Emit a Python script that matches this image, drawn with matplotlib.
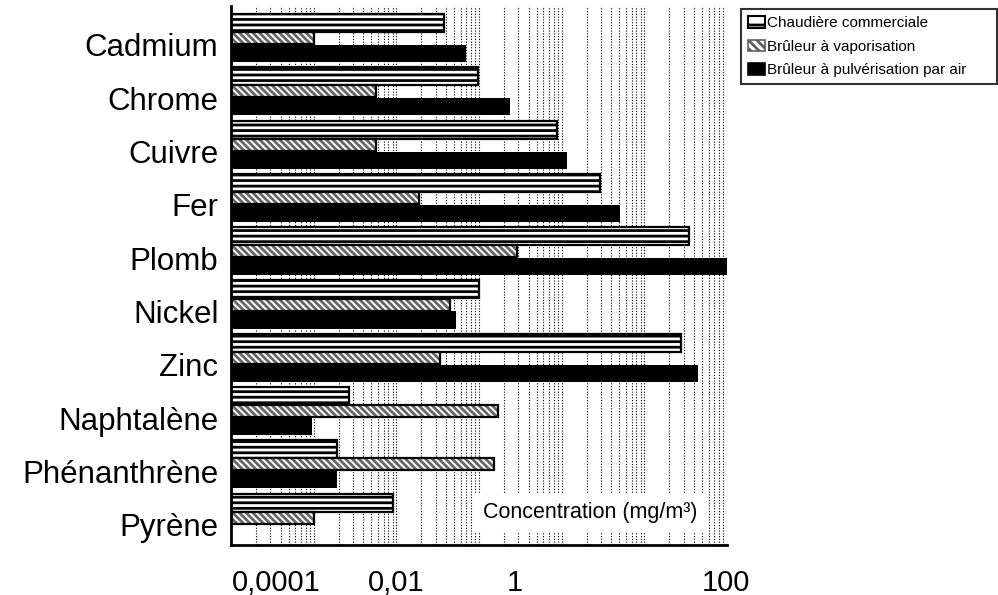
import numpy as np
import matplotlib
matplotlib.use("Agg")
import matplotlib.pyplot as plt
from matplotlib.patches import Patch
from matplotlib.ticker import LogLocator, NullFormatter

plt.rcParams['font.family'] = ['Liberation Sans', 'DejaVu Sans']
plt.rcParams['hatch.linewidth'] = 2.0

# values (mg/m3)
categories = ["Cadmium", "Chrome", "Cuivre", "Fer", "Plomb", "Nickel", "Zinc",
              "Naphtalène", "Phénanthrène", "Pyrène"]
chaudiere = [0.038, 0.096, 0.88, 2.9, 35, 0.1, 28, 0.0027, 0.0019, 0.009]
vaporisation = [0.001, 0.0056, 0.0057, 0.019, 0.29, 0.044, 0.034, 0.17, 0.15, 0.001]
pulverisation = [0.07, 0.24, 1.16, 5.1, 100, 0.053, 45, 0.00095, 0.0019, np.nan]
series_names = ["Chaudière commerciale", "Brûleur à vaporisation",
                "Brûleur à pulvérisation par air"]
tick_labels = ["0,0001", "0,01", "1", "100"]

xmin, xmax = 1e-4, 100

fig = plt.figure(figsize=(9.98, 5.95), dpi=100)
ax = fig.add_axes([231 / 998, 50 / 595, 496 / 998, 539 / 595])
ax.set_xscale("log")
ax.set_xlim(xmin, xmax)

y = np.arange(len(categories))

# gridlines behind the bars
ax.xaxis.set_major_locator(LogLocator(base=10, numticks=20))
ax.xaxis.set_minor_locator(LogLocator(base=10, subs=np.arange(2, 10), numticks=20))
ax.xaxis.set_minor_formatter(NullFormatter())
ax.grid(True, which="both", axis="x", color="black", linestyle=(0, (1, 1.5)),
        linewidth=0.8)
ax.set_axisbelow(True)

c = np.array(chaudiere)
v = np.array(vaporisation)
p = np.array(pulverisation)

ax.barh(y - 0.413, c - xmin, left=xmin, height=0.338, color="white",
        edgecolor="black", hatch="---", linewidth=1.6, zorder=2)
# hatched bar: grey stripes, then black outline on top
ax.barh(y - 0.131, v - xmin, left=xmin, height=0.225, color="white",
        edgecolor="#666666", hatch="\\\\\\\\\\", linewidth=0, zorder=2)
ax.barh(y - 0.131, v - xmin, left=xmin, height=0.225, fill=False,
        edgecolor="black", linewidth=1.6, zorder=3)
ax.barh(y + 0.16, p - xmin, left=xmin, height=0.32, color="black",
        edgecolor="black", linewidth=0, zorder=2)

ax.set_ylim(9.38, -0.73)
ax.set_yticks(y)
ax.set_yticklabels(categories, fontsize=22.5)
ax.tick_params(axis="y", length=0, pad=9)
ax.tick_params(axis="x", which="both", length=0, labelbottom=False)

for side in ["top", "right"]:
    ax.spines[side].set_visible(False)
for side in ["left", "bottom"]:
    ax.spines[side].set_linewidth(2)

# x labels sit where the original put them
label_pos = [(276 - 231) / 496, (396 - 231) / 496, (515 - 231) / 496, (726 - 231) / 496]
for xp, txt in zip(label_pos, tick_labels):
    ax.text(xp, -0.07, txt, transform=ax.transAxes, ha="center", va="center",
            fontsize=21)

ax.text(0.5 + (590 - 479) / 496, 0.06, "Concentration (mg/m³)",
        transform=ax.transAxes, ha="center", va="center", fontsize=15.5,
        zorder=5, bbox=dict(facecolor="white", edgecolor="none", pad=6))

handles = [
    Patch(facecolor="white", edgecolor="black", hatch="-", linewidth=1.5),
    Patch(facecolor="white", edgecolor="#606060", hatch="\\\\\\\\", linewidth=1.2),
    Patch(facecolor="black", edgecolor="black", linewidth=1.2),
]
leg = fig.legend(handles, series_names, loc="upper left", mode="expand",
                 bbox_to_anchor=(741 / 998, 1 - 9 / 595, 256 / 998, 0),
                 fontsize=11, frameon=True, fancybox=False, borderaxespad=0,
                 handlelength=1.1, handleheight=0.8, handletextpad=0.15,
                 labelspacing=0.62, borderpad=0.45)
leg.get_frame().set_edgecolor("black")
leg.get_frame().set_linewidth(1.5)

fig.savefig("out.png", dpi=100)
